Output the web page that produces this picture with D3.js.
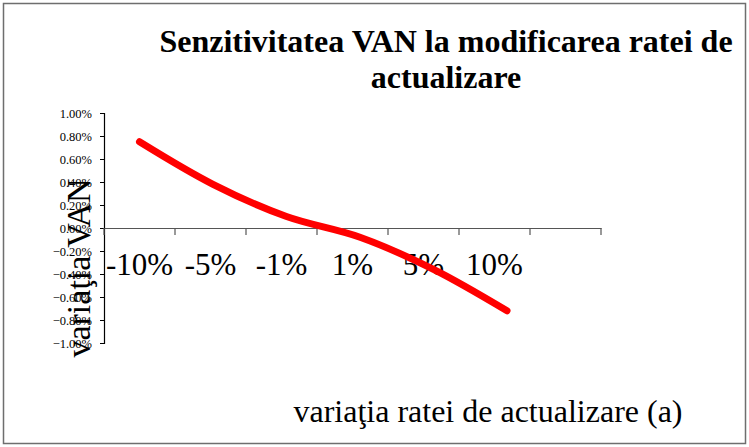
<!DOCTYPE html>
<html>
<head>
<meta charset="utf-8">
<script src="https://cdn.jsdelivr.net/npm/d3@7"></script>
<style>
  body { margin: 0; background: #fff; }
  svg { display: block; font-family: "Liberation Serif", "Times New Roman", serif; }
</style>
</head>
<body>
<svg width="749" height="447"></svg>
<script>
// categorii axa X (a 7-a pozitie e goala in original)
var categories = ["-10%", "-5%", "-1%", "1%", "5%", "10%", ""];
// variatia VAN, in procente
var vanValues = [0.75, 0.38, 0.10, -0.08, -0.36, -0.72];
var yTicks = [1.0, 0.8, 0.6, 0.4, 0.2, 0, -0.2, -0.4, -0.6, -0.8, -1.0];

var titleLines = ["Senzitivitatea VAN la modificarea ratei de", "actualizare"];
var xTitle = "variaţia ratei de actualizare (a)";
var yTitle = "variaţia VAN";

var W = 749, H = 447;
var plot = { left: 104, right: 601, top: 113, bottom: 343 };

var svg = d3.select("svg");

// chenar
svg.append("rect")
    .attr("x", 3.5).attr("y", 3.5)
    .attr("width", W - 7).attr("height", H - 7)
    .attr("fill", "none")
    .attr("stroke", "#6e6e6e")
    .attr("stroke-width", 1.5);

// scale
var x = d3.scaleBand()
    .domain(categories)
    .range([plot.left, plot.right])
    .padding(0);

var y = d3.scaleLinear()
    .domain([-1, 1])
    .range([plot.bottom, plot.top]);

// linia e putin mai intinsa decat centrele categoriilor
var xLine = d3.scaleLinear()
    .domain([0, vanValues.length - 1])
    .range([x(categories[0]) + x.bandwidth() / 2, 507]);

// axa Y
var yAxis = d3.axisLeft(y)
    .tickValues(yTicks)
    .tickSize(4)
    .tickPadding(8)
    .tickFormat(d => d3.format(".2f")(d) + "%");

var gy = svg.append("g")
    .attr("transform", "translate(" + plot.left + ",0)")
    .call(yAxis);
gy.select(".domain").attr("stroke", "#000").attr("stroke-width", 1.2);
gy.selectAll(".tick line").attr("stroke", "#000");
gy.selectAll(".tick text")
    .attr("font-family", "Liberation Serif")
    .attr("font-size", 12.5)
    .attr("fill", "#000");

// axa X la nivelul lui 0
var xAxis = d3.axisBottom(x)
    .tickSize(0)
    .tickPadding(0)
    .tickFormat(d => d);

var gx = svg.append("g")
    .attr("transform", "translate(0," + y(0) + ")")
    .call(xAxis);
gx.select(".domain").attr("stroke", "#555").attr("stroke-width", 1.2);
gx.selectAll(".tick text")
    .attr("font-family", "Liberation Serif")
    .attr("font-size", 31)
    .attr("fill", "#000")
    .attr("dy", 0)
    .attr("y", 47);

// gradatii intre categorii
var edges = categories.map(c => x(c)).concat([plot.right]);
svg.append("g").selectAll("line")
    .data(edges)
    .enter().append("line")
    .attr("x1", d => d).attr("x2", d => d)
    .attr("y1", y(0)).attr("y2", y(0) + 7)
    .attr("stroke", "#555")
    .attr("stroke-width", 1.2);

// linia rosie
var line = d3.line()
    .x((d, i) => xLine(i))
    .y(d => y(d))
    .curve(d3.curveCatmullRom.alpha(0.5));

svg.append("path")
    .datum(vanValues)
    .attr("d", line)
    .attr("fill", "none")
    .attr("stroke", "#ff0000")
    .attr("stroke-width", 7)
    .attr("stroke-linecap", "round")
    .attr("stroke-linejoin", "round");

// titlu
svg.append("g").selectAll("text")
    .data(titleLines)
    .enter().append("text")
    .attr("x", 446)
    .attr("y", (d, i) => 52 + i * 36)
    .attr("text-anchor", "middle")
    .attr("font-size", 32)
    .attr("font-weight", "bold")
    .text(d => d);

// titlu axa X
svg.append("text")
    .attr("x", 488)
    .attr("y", 422)
    .attr("text-anchor", "middle")
    .attr("font-size", 32)
    .text(xTitle);

// titlu axa Y
svg.append("text")
    .attr("transform", "translate(90,268) rotate(-90)")
    .attr("text-anchor", "middle")
    .attr("font-size", 34)
    .text(yTitle);
</script>
</body>
</html>
